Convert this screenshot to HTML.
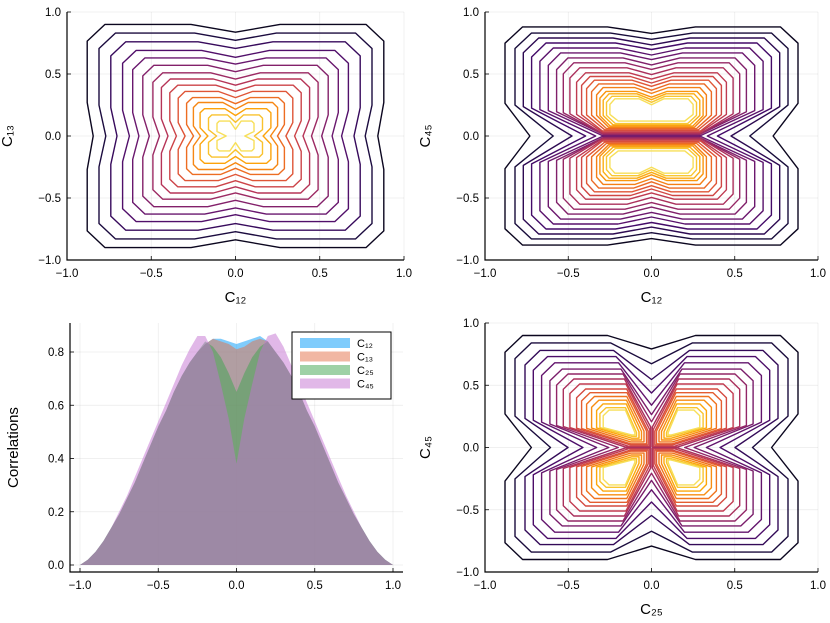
<!DOCTYPE html>
<html><head><meta charset="utf-8"><style>
body{margin:0;background:#fff}
svg{display:block;font-family:"Liberation Sans","DejaVu Sans",sans-serif}
</style></head><body>
<svg id="chart" width="830" height="623" viewBox="0 0 830 623" xmlns="http://www.w3.org/2000/svg"></svg>
<script>
// ---------- data ----------
const ticks = [-1.0, -0.5, 0.0, 0.5, 1.0];
const tickLabels = ["\u22121.0", "\u22120.5", "0.0", "0.5", "1.0"];
// contour panel 1 (C12 vs C13): half-width, half-height, side pinch, top pinch, gaps
const p1hx = [0.88,0.81,0.74,0.67,0.61,0.55,0.49,0.44,0.39,0.34,0.29,0.25,0.21,0.16,0.11];
const p1hy = [0.90,0.83,0.76,0.69,0.63,0.57,0.51,0.46,0.41,0.36,0.31,0.27,0.22,0.17,0.12];
const p1mx = [0.96,0.95,0.95,0.94,0.94,0.93,0.92,0.91,0.90,0.88,0.86,0.83,0.78,0.70,0.50];
const p1my = [0.93,0.93,0.93,0.92,0.92,0.91,0.90,0.89,0.88,0.86,0.84,0.80,0.75,0.65,0.45];
const p1gx = [0,0,0,0,0,0,0,0,0,0,0,0,0,0,0];
const p1gy = [0,0,0,0,0,0,0,0,0,0,0,0,0,0,0];
// contour panel 2 (C12 vs C45)
const p2hx = [0.88,0.82,0.77,0.72,0.67,0.62,0.57,0.53,0.49,0.45,0.42,0.39,0.36,0.33,0.31,0.29,0.27,0.25];
const p2hy = [0.88,0.83,0.79,0.75,0.71,0.67,0.63,0.59,0.55,0.51,0.48,0.45,0.42,0.39,0.36,0.34,0.32,0.30];
const p2mx = [0.83,0.72,0.62,0.55,0.50,0.48,0.50,0.55,0.60,0.65,0.70,0.72,0.75,0.78,0.80,0.80,0.80,0.80];
const p2my = [0.94,0.94,0.93,0.93,0.92,0.92,0.91,0.91,0.90,0.90,0.89,0.89,0.88,0.88,0.87,0.86,0.85,0.84];
const p2gx = [0,0,0,0,0,0,0,0,0,0,0,0,0,0,0,0,0,0];
const p2gy = [0,0,0,0,0,0.005,0.01,0.015,0.02,0.03,0.04,0.05,0.06,0.07,0.08,0.09,0.10,0.12];
// contour panel 3 (C25 vs C45)
const p3hx = [0.88,0.82,0.76,0.71,0.66,0.61,0.57,0.53,0.49,0.45,0.42,0.39,0.36,0.33,0.31,0.29];
const p3hy = [0.90,0.84,0.78,0.73,0.68,0.63,0.59,0.55,0.51,0.47,0.44,0.41,0.38,0.35,0.32,0.30];
const p3mx = [0.82,0.74,0.66,0.58,0.50,0.42,0.35,0.30,0.28,0.28,0.30,0.32,0.34,0.36,0.38,0.40];
const p3my = [0.88,0.80,0.70,0.60,0.50,0.42,0.35,0.30,0.28,0.28,0.30,0.32,0.34,0.36,0.38,0.40];
const p3gx = [0,0,0,0,0,0,0,0.005,0.01,0.02,0.03,0.045,0.06,0.075,0.09,0.10];
const p3gy = [0,0,0,0,0,0,0,0.005,0.01,0.02,0.03,0.045,0.06,0.075,0.09,0.10];
// histogram
const histX = [-1,-0.95,-0.9,-0.85,-0.8,-0.75,-0.7,-0.65,-0.6,-0.55,-0.5,-0.45,-0.4,-0.35,-0.3,-0.25,-0.2,-0.15,-0.1,-0.05,0,0.05,0.1,0.15,0.2,0.25,0.3,0.35,0.4,0.45,0.5,0.55,0.6,0.65,0.7,0.75,0.8,0.85,0.9,0.95,1];
const c12 = [0,0.02,0.05,0.09,0.14,0.19,0.25,0.31,0.38,0.45,0.52,0.58,0.65,0.71,0.76,0.80,0.83,0.85,0.85,0.84,0.83,0.84,0.85,0.86,0.84,0.80,0.76,0.71,0.65,0.58,0.52,0.45,0.38,0.31,0.25,0.19,0.14,0.09,0.05,0.02,0];
const c13 = [0,0.02,0.05,0.09,0.14,0.19,0.25,0.31,0.38,0.45,0.52,0.58,0.65,0.71,0.76,0.80,0.83,0.85,0.84,0.83,0.81,0.82,0.84,0.85,0.84,0.80,0.76,0.71,0.65,0.58,0.52,0.45,0.38,0.31,0.25,0.19,0.14,0.09,0.05,0.02,0];
const c25 = [0,0.02,0.05,0.09,0.14,0.19,0.25,0.31,0.38,0.45,0.52,0.58,0.65,0.71,0.76,0.80,0.84,0.82,0.78,0.72,0.65,0.72,0.78,0.82,0.84,0.80,0.76,0.71,0.65,0.58,0.52,0.45,0.38,0.31,0.25,0.19,0.14,0.09,0.05,0.02,0];
const c45 = [0,0.02,0.05,0.09,0.14,0.20,0.26,0.33,0.40,0.47,0.54,0.61,0.68,0.75,0.81,0.86,0.86,0.80,0.68,0.55,0.38,0.55,0.68,0.80,0.86,0.87,0.82,0.75,0.68,0.61,0.54,0.47,0.40,0.33,0.26,0.20,0.14,0.09,0.05,0.02,0];
const histTicksY = [0.0,0.2,0.4,0.6,0.8];

// ---------- helpers ----------
const svg = document.getElementById('chart');
const NS = 'http://www.w3.org/2000/svg';
function mk(tag, attrs, parent){const e=document.createElementNS(NS,tag);for(const k in attrs)e.setAttribute(k,attrs[k]);(parent||svg).appendChild(e);return e;}
const inf = [[0,0,0,4],[0.1,22,11,57],[0.2,66,10,104],[0.3,106,23,110],[0.4,147,38,103],[0.5,188,55,84],[0.6,221,81,58],[0.7,243,120,25],[0.8,252,165,10],[0.9,246,215,70],[1,252,255,164]];
function inferno(t){for(let i=0;i<inf.length-1;i++){const a=inf[i],b=inf[i+1];if(t<=b[0]){const f=(t-a[0])/(b[0]-a[0]);return `rgb(${Math.round(a[1]+f*(b[1]-a[1]))},${Math.round(a[2]+f*(b[2]-a[2]))},${Math.round(a[3]+f*(b[3]-a[3]))})`;}}return 'rgb(252,255,164)';}

function axes(name, x0,x1,y0,y1, xs, ys, yticks, ylabels, xlab, ylab, ylabX){
  const g = mk('g',{});
  
  
  ticks.forEach((t,i)=>{
    const l=mk('line',{x1:xs(t),x2:xs(t),y1:y0,y2:y1,stroke:'#000','stroke-opacity':0.08,'stroke-width':0.7},g);
    
    
    const tx=mk('text',{x:xs(t),y:y1+17,'text-anchor':'middle','font-size':11.5,fill:'#000'},g);tx.textContent=tickLabels[i];
    
    
    mk('line',{x1:xs(t),x2:xs(t),y1:y1,y2:y1-4,stroke:'#000','stroke-width':0.8},g);
  });
  yticks.forEach((t,i)=>{
    const l=mk('line',{x1:x0,x2:x1,y1:ys(t),y2:ys(t),stroke:'#000','stroke-opacity':0.08,'stroke-width':0.7},g);
    
    
    const tx=mk('text',{x:x0-6,y:ys(t)+4,'text-anchor':'end','font-size':11.5,fill:'#000'},g);tx.textContent=ylabels[i];
    
    
    mk('line',{x1:x0,x2:x0+4,y1:ys(t),y2:ys(t),stroke:'#000','stroke-width':0.8},g);
  });
  mk('path',{d:`M${x0},${y0}V${y1}H${x1}`,fill:'none',stroke:'#000','stroke-width':1.2},g);
  if(xlab){const t=mk('text',{x:(x0+x1)/2,y:y1+42,'text-anchor':'middle','font-size':15},g);t.textContent=xlab;
    }
  if(ylab){const cy=(y0+y1)/2;const t=mk('text',{x:ylabX,y:cy,'text-anchor':'middle','font-size':15,transform:`rotate(-90 ${ylabX} ${cy})`},g);t.textContent=ylab;
    }
  return g;
}

function contourPanel(name, x0,x1,y0,y1, HX,HY,MX,MY,GX,GY, xlab, ylab){
  const xs=v=>x0+(v+1)/2*(x1-x0), ys=v=>y1-(v+1)/2*(y1-y0);
  axes(name+'-axes',x0,x1,y0,y1,xs,ys,ticks,tickLabels,xlab,ylab,x0-55);
  const g=mk('g',{});
  
  
  const n=HX.length;
  const P=p=>xs(p[0]).toFixed(1)+','+ys(p[1]).toFixed(1);
  for(let i=0;i<n;i++){
    const hx=HX[i],hy=HY[i],gx=GX[i],gy=GY[i];
    const ax=Math.max(MX[i]*hx,gx), ay=Math.max(MY[i]*hy,gy);
    // first-quadrant polyline from x-side to y-side
    const q=[[ax,gy],[hx,gy+0.3*(hy-gy)],[hx,0.85*hy],[0.88*hx,hy],[gx+0.3*(hx-gx),hy],[gx,ay]];
    const refl=(pts,sx,sy)=>pts.map(p=>[p[0]*sx,p[1]*sy]);
    let d='';
    if(gx===0&&gy===0){
      const pts=[...q, ...refl(q,-1,1).reverse().slice(1), ...refl(q,-1,-1).slice(1), ...refl(q,1,-1).reverse().slice(1,-1)];
      d='M'+pts.map(P).join('L')+'Z';
    } else if(gx===0){
      [1,-1].forEach(sy=>{
        const pts=[...refl(q,1,sy), ...refl(q,-1,sy).reverse().slice(1)];
        d+='M'+pts.map(P).join('L')+'Z';
      });
    } else {
      [[1,1],[-1,1],[-1,-1],[1,-1]].forEach(s=>{
        const pts=[...refl(q,s[0],s[1]),[gx*s[0],gy*s[1]]];
        d+='M'+pts.map(P).join('L')+'Z';
      });
    }
    const p=mk('path',{d:d,fill:'none',stroke:inferno(0.05+0.87*i/(n-1)),'stroke-width':1.4,'stroke-linejoin':'round'},g);
    
    
  }
}

contourPanel('panel-c12-c13',67,404,12,260,p1hx,p1hy,p1mx,p1my,p1gx,p1gy,'C\u2081\u2082','C\u2081\u2083');
contourPanel('panel-c12-c45',485,818,12,260,p2hx,p2hy,p2mx,p2my,p2gx,p2gy,'C\u2081\u2082','C\u2084\u2085');
contourPanel('panel-c25-c45',485,818,323,572,p3hx,p3hy,p3mx,p3my,p3gx,p3gy,'C\u2082\u2085','C\u2084\u2085');

// histogram panel
(function(){
  const x0=70,x1=403,y0=323,y1=572;
  const xs=v=>80+(v+1)/2*(393-80), ys=v=>565-v/0.8*(565-352);
  axes('histogram-axes',x0,x1,y0,y1,xs,ys,histTicksY,["0.0","0.2","0.4","0.6","0.8"],null,'Correlations',x0-52);
  const series=[[c12,'rgb(0,154,250)','C\u2081\u2082'],[c13,'rgb(227,111,71)','C\u2081\u2083'],[c25,'rgb(62,164,78)','C\u2082\u2085'],[c45,'rgb(195,113,210)','C\u2084\u2085']];
  series.forEach(s=>{
    let d=`M${xs(histX[0]).toFixed(1)},${ys(0)}`;
    histX.forEach((x,i)=>{d+=`L${xs(x).toFixed(1)},${ys(s[0][i]).toFixed(1)}`;});
    d+=`L${xs(histX[histX.length-1]).toFixed(1)},${ys(0)}Z`;
    const p=mk('path',{d:d,fill:s[1],'fill-opacity':0.5,stroke:'none'});
    
    
  });
  const lg=mk('g',{});
  
  
  mk('rect',{x:292,y:332,width:99,height:67,fill:'#fff',stroke:'#000','stroke-width':1},lg);
  series.forEach((s,i)=>{
    const y=338+i*13.5;
    const e=mk('g',{},lg);
    
    
    mk('rect',{x:300,y:y,width:50,height:10,fill:s[1],'fill-opacity':0.5},e);
    const t=mk('text',{x:357,y:y+9,'font-size':11},e);t.textContent=s[2];
  });
})();
</script>
</body></html>
